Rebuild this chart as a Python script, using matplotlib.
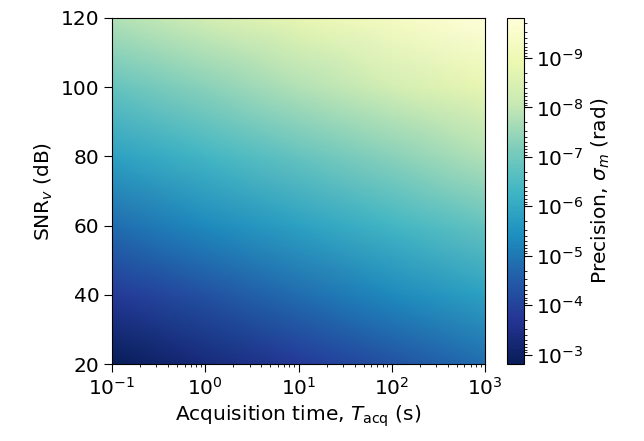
import numpy as np
import matplotlib
matplotlib.use("Agg")
import matplotlib.pyplot as plt
from matplotlib.colors import LogNorm

plt.rcParams['font.size'] = 14.5

# acquisition time (s) and voltage SNR (dB) grid
t_acq = [0.1, 1, 10, 100, 1000]
snr_db = [20, 40, 60, 80, 100, 120]

# precision sigma_m (rad), one row per SNR value
sigma_20 = [1.55e-3, 4.9e-4, 1.55e-4, 4.9e-5, 1.55e-5]
sigma_40 = [1.55e-4, 4.9e-5, 1.55e-5, 4.9e-6, 1.55e-6]
sigma_60 = [1.55e-5, 4.9e-6, 1.55e-6, 4.9e-7, 1.55e-7]
sigma_80 = [1.55e-6, 4.9e-7, 1.55e-7, 4.9e-8, 1.55e-8]
sigma_100 = [1.55e-7, 4.9e-8, 1.55e-8, 4.9e-9, 1.55e-9]
sigma_120 = [1.55e-8, 4.9e-9, 1.55e-9, 4.9e-10, 1.55e-10]

sigma = np.array([sigma_20, sigma_40, sigma_60, sigma_80, sigma_100, sigma_120])
T, S = np.meshgrid(t_acq, snr_db)

fig = plt.figure(figsize=(6.44, 4.41), dpi=100)
ax = fig.add_axes([112/644, 1 - 364/441, 373/644, 346/441])
cax = fig.add_axes([507/644, 1 - 364/441, 17/644, 346/441])

mesh = ax.pcolormesh(T, S, sigma, shading='gouraud', cmap='YlGnBu',
                     norm=LogNorm(vmin=sigma.min(), vmax=sigma.max()))
ax.set_xscale('log')
ax.set_xlim(0.1, 1000)
ax.set_ylim(20, 120)
ax.set_yticks([20, 40, 60, 80, 100, 120])
ax.set_xlabel(r'Acquisition time, $T_{\rm acq}$ (s)')
ax.set_ylabel(r'SNR$_v$ (dB)')
ax.tick_params(which='major', length=5.5)

cbar = fig.colorbar(mesh, cax=cax)
cbar.ax.invert_yaxis()
cbar.set_label(r'Precision, $\sigma_m$ (rad)')
cbar.ax.tick_params(which='major', length=5.5)
cbar.ax.yaxis.get_offset_text().set_visible(False)

fig.savefig('out.png', dpi=100)
